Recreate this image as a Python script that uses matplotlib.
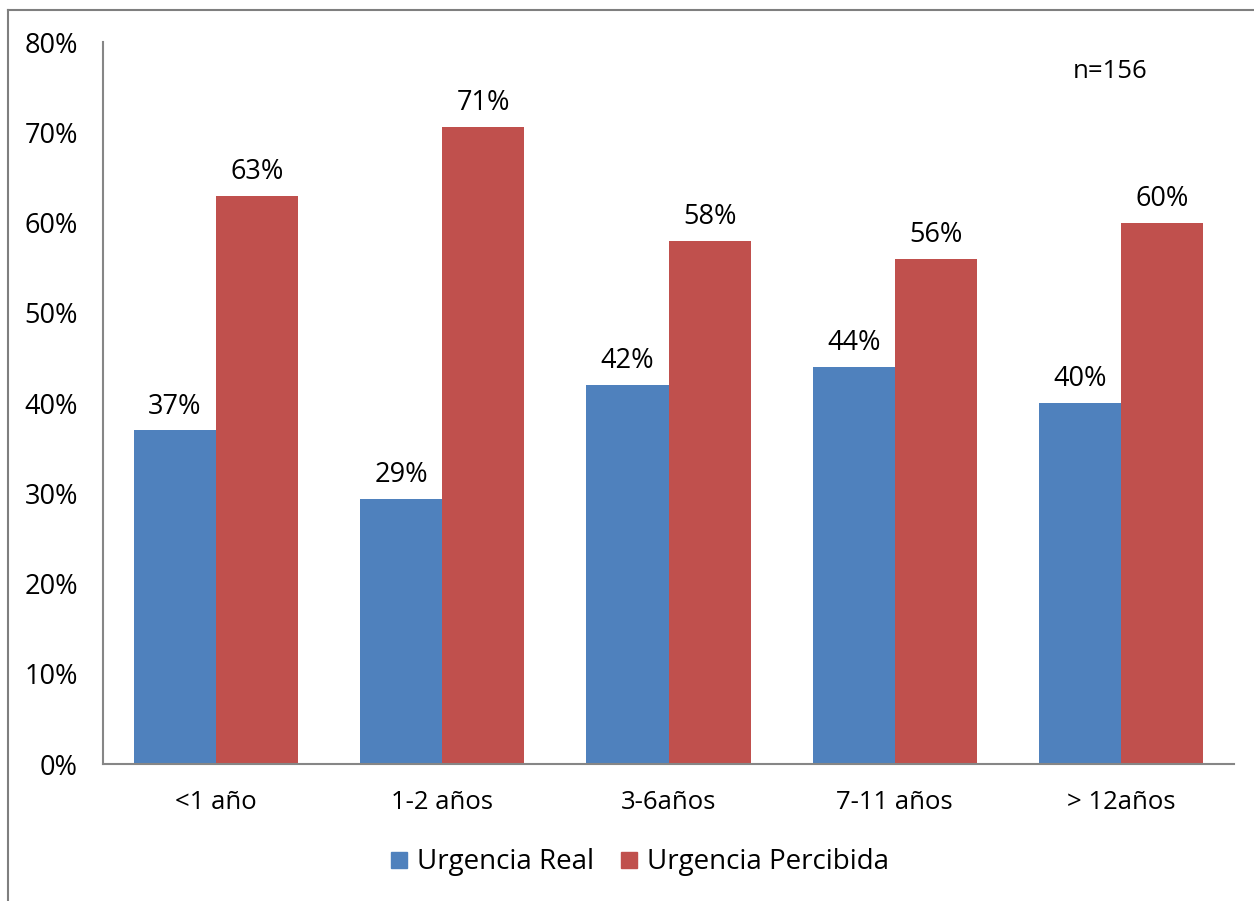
import numpy as np
import matplotlib
matplotlib.use('Agg')
import matplotlib.pyplot as plt
from matplotlib.lines import Line2D

plt.rcParams['font.family'] = ['Open Sans', 'DejaVu Sans']

# Data
categories = ['<1 año', '1-2 años', '3-6años', '7-11 años', '> 12años']
real = [37.0, 29.4, 42.0, 44.0, 40.0]
percibida = [63.0, 70.6, 58.0, 56.0, 60.0]
series_names = ['Urgencia Real', 'Urgencia Percibida']
colors = ['#4F81BD', '#C0504D']
note = 'n=156'

fig = plt.figure(figsize=(12.54, 9.01), dpi=100)
ax = fig.add_axes([0.0821, 0.152, 0.902, 0.801])

x = np.arange(len(categories))
w = 0.363
b1 = ax.bar(x - w / 2, real, w, color=colors[0], label=series_names[0])
b2 = ax.bar(x + w / 2, percibida, w, color=colors[1], label=series_names[1])

# value labels above each bar
for bars, vals in [(b1, real), (b2, percibida)]:
    for r, v in zip(bars, vals):
        ax.annotate(f"{v:.0f}%", (r.get_x() + r.get_width() / 2, v),
                    xytext=(0, 7), textcoords='offset points',
                    ha='center', va='bottom', fontsize=19.5)

ax.set_xlim(-0.5, len(categories) - 0.5)
ax.set_ylim(0, 80)
ax.set_yticks(range(0, 81, 10))
ax.set_yticklabels([f"{t}%" for t in range(0, 81, 10)])
ax.set_xticks(x)
ax.set_xticklabels(categories)
ax.tick_params(axis='both', length=0)
ax.tick_params(axis='y', pad=18, labelsize=19.5)
ax.tick_params(axis='x', pad=19, labelsize=18.5)

for s in ['top', 'right']:
    ax.spines[s].set_visible(False)
for s in ['left', 'bottom']:
    ax.spines[s].set_color('#868686')
    ax.spines[s].set_linewidth(1.5)

ax.text(0.89, 0.96, note, transform=ax.transAxes, ha='center', va='center',
        fontsize=18.5)

handles = [Line2D([], [], marker='s', linestyle='none', markersize=12,
                  markerfacecolor=c, markeredgecolor=c) for c in colors]
fig.legend(handles, series_names, loc='center', bbox_to_anchor=(0.51, 0.043),
           ncol=2, frameon=False, fontsize=20, handlelength=0.7,
           handletextpad=0.3, columnspacing=0.9)

# partial outer frame (left and top edges)
fig.add_artist(Line2D([0.0064, 0.0064], [0, 0.989], color='#7f7f7f',
                      lw=1.5, transform=fig.transFigure))
fig.add_artist(Line2D([0.0064, 1], [0.989, 0.989], color='#7f7f7f',
                      lw=1.5, transform=fig.transFigure))

fig.savefig('out.png', dpi=100)
